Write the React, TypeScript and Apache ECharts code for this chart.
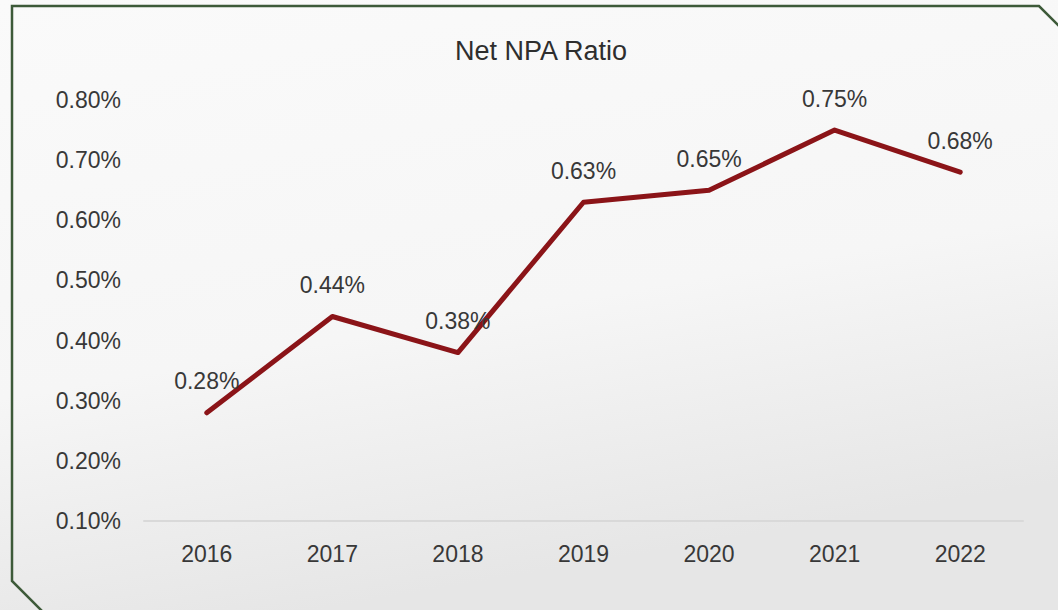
import React, { useEffect, useRef } from "react";
import * as echarts from "echarts";

const years = ["2016", "2017", "2018", "2019", "2020", "2021", "2022"];
const netNpaRatio = [0.28, 0.44, 0.38, 0.63, 0.65, 0.75, 0.68];
const yMin = 0.1;
const yMax = 0.8;
const yStep = 0.1;

const FONT = "'Liberation Sans', Arial, sans-serif";
const TEXT = "#383838";

export default function App() {
  const ref = useRef<HTMLDivElement>(null);
  useEffect(() => {
    if (!ref.current) return;
    const chart = echarts.init(ref.current, null, { renderer: "svg" });
    chart.setOption({
      animation: false,
      backgroundColor: {
        type: "linear",
        x: 0,
        y: 0,
        x2: 0.3,
        y2: 1,
        colorStops: [
          { offset: 0, color: "#fafafa" },
          { offset: 0.6, color: "#f6f6f6" },
          { offset: 1, color: "#e6e6e6" },
        ],
      },
      title: {
        text: "Net NPA Ratio",
        left: 450,
        top: 32,
        textStyle: { fontFamily: FONT, fontSize: 27, fontWeight: "normal", color: "#2e2e2e" },
      },
      graphic: [
        {
          type: "polyline",
          shape: { points: [[1075, 42], [1039, 6], [12, 6], [12, 581], [45, 614]] },
          style: { stroke: "#3d5a39", lineWidth: 2.5, fill: "none" },
          silent: true,
        },
      ],
      grid: { left: 144, right: 35, top: 100, bottom: 89, containLabel: false },
      xAxis: {
        type: "category",
        data: years,
        boundaryGap: true,
        axisLine: { show: true, lineStyle: { color: "#d9d9d9", width: 2 } },
        axisTick: { show: false },
        axisLabel: { margin: 21, color: TEXT, fontFamily: FONT, fontSize: 23 },
        splitLine: { show: false },
      },
      yAxis: {
        type: "value",
        min: yMin,
        max: yMax,
        interval: yStep,
        axisLine: { show: false },
        axisTick: { show: false },
        splitLine: { show: false },
        axisLabel: {
          margin: 23,
          color: TEXT,
          fontFamily: FONT,
          fontSize: 23,
          formatter: (v: number) => v.toFixed(2) + "%",
        },
      },
      series: [
        {
          type: "line",
          data: netNpaRatio,
          symbol: "circle",
          symbolSize: 0.1,
          showSymbol: true,
          lineStyle: { color: "#8b1418", width: 5, cap: "round", join: "round" },
          itemStyle: { color: "#8b1418", opacity: 0 },
          label: {
            show: true,
            position: "top",
            distance: 20,
            color: TEXT,
            fontFamily: FONT,
            fontSize: 23,
            opacity: 1,
            formatter: (p: any) => p.value.toFixed(2) + "%",
          },
        },
      ],
    });
    return () => chart.dispose();
  }, []);
  return (
    <div
      ref={ref}
      style={{ position: "fixed", left: 0, top: 0, width: 1058, height: 610 }}
    />
  );
}
